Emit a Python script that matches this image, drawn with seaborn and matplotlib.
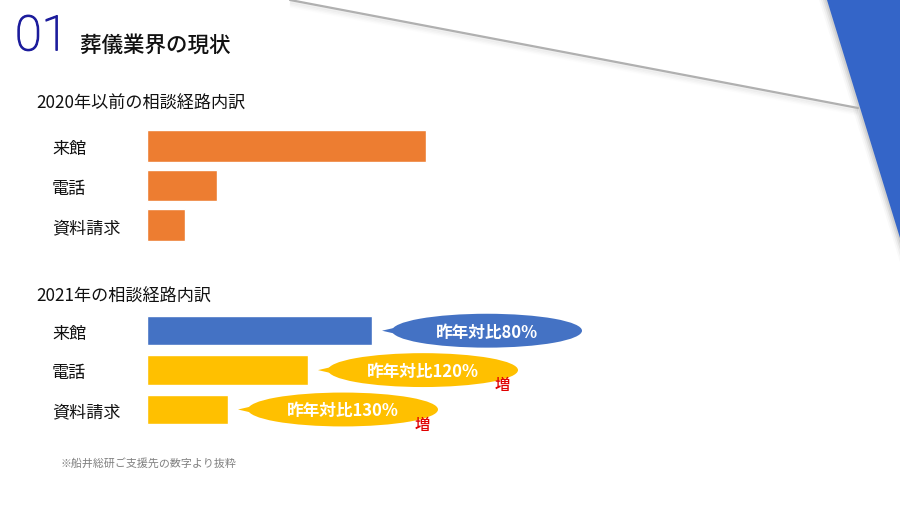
import matplotlib
matplotlib.use("Agg")
import matplotlib.pyplot as plt
import matplotlib.patheffects as pe
from matplotlib.patches import Ellipse, Polygon
from matplotlib.transforms import ScaledTranslation
import seaborn as sns
import pandas as pd
import numpy as np

sns.set_theme(style="white")
plt.rcParams['font.family'] = ['Noto Sans CJK JP', 'DejaVu Sans']

# ---- data ----
channels = ["来館", "電話", "資料請求"]
values_2020 = [279, 70, 38]
values_2021 = [225, 161, 81]
callout_labels = ["昨年対比80%", "昨年対比120%", "昨年対比130%"]
callout_up = [False, True, True]
title_2020 = "2020年以前の相談経路内訳"
title_2021 = "2021年の相談経路内訳"
header_num = "01"
header_text = "葬儀業界の現状"
footnote = "※船井総研ご支援先の数字より抜粋"

ORANGE = "#ED7D31"
BLUE = "#4472C4"
GOLD = "#FFC000"
colors_2021 = [BLUE, GOLD, GOLD]

W, H = 900, 505
fig = plt.figure(figsize=(W / 100, H / 100), dpi=100)
fig.patch.set_facecolor("white")

# background decoration axes in pixel coords
bg = fig.add_axes([0, 0, 1, 1])
bg.set_xlim(0, W)
bg.set_ylim(H, 0)
bg.axis("off")
for k, a in enumerate([0.07, 0.05, 0.035, 0.02]):
    bg.plot([290, 858], [0 + 1.5 * (k + 1), 108 + 1.5 * (k + 1)], color="#808080", alpha=a, lw=2.5,
            solid_capstyle="butt")
bg.plot([290, 858], [0, 108], color="#b0b0b0", lw=1.6)
for k, a in enumerate([0.08, 0.06, 0.04, 0.025]):
    d = 2.0 * (k + 1)
    bg.add_patch(Polygon([[827 - d, 0], [900, 0], [900, 238 + d * 3]], closed=True, facecolor="#000000",
                         alpha=a, lw=0))
bg.add_patch(Polygon([[827, 0], [900, 0], [900, 238]], closed=True, facecolor="#3465C8", lw=0))

# header
NAVY = "#1c1c9c"
fig.text(15 / W, 1 - 37 / H, header_num, fontsize=35, color=NAVY, family=["Roboto", "DejaVu Sans"],
         fontweight="light", va="center", ha="left",
         path_effects=[pe.Stroke(linewidth=0.9, foreground=NAVY), pe.Normal()])
fig.text(80 / W, 1 - 46 / H, header_text, fontsize=15.5, color="#111111", fontweight="medium",
         va="center", ha="left")
fig.text(36 / W, 1 - 104 / H, title_2020, fontsize=12.3, color="#111111", va="center", ha="left")
fig.text(36 / W, 1 - 297 / H, title_2021, fontsize=12.3, color="#111111", va="center", ha="left")
fig.text(60 / W, 1 - 463 / H, footnote, fontsize=7.9, color="#808080", va="center", ha="left")

AX_LEFT = 147
AX_WIDTH = 600
STEP = 39.4


def make_ax(top_px):
    h = 3 * STEP
    ax = fig.add_axes([AX_LEFT / W, 1 - (top_px + h) / H, AX_WIDTH / W, h / H])
    ax.patch.set_alpha(0)
    return ax


df20 = pd.DataFrame({"channel": channels, "value": values_2020})
ax1 = make_ax(126.5)
sns.barplot(data=df20, x="value", y="channel", orient="h", color=ORANGE, saturation=1,
            width=0.8, ax=ax1)

df21 = pd.DataFrame({"channel": channels, "value": values_2021})
ax2 = make_ax(311)
sns.barplot(data=df21, x="value", y="channel", orient="h", hue="channel", palette=colors_2021,
            saturation=1, width=0.75, legend=False, ax=ax2)

shift = ScaledTranslation(0, -3 / 100, fig.dpi_scale_trans)
for ax in (ax1, ax2):
    ax.set_xlim(0, AX_WIDTH)
    ax.set_ylim(2.5, -0.5)
    for s in ax.spines.values():
        s.set_visible(False)
    ax.set_xticks([])
    ax.set_xlabel("")
    ax.set_ylabel("")
    ax.tick_params(axis="y", length=0, pad=95 * 0.72, labelsize=12.3, labelcolor="#111111")
    for lab in ax.get_yticklabels():
        lab.set_horizontalalignment("left")
        lab.set_verticalalignment("center")
        lab.set_transform(lab.get_transform() + shift)

# callouts on 2021 bars
for i, (v, lab, up, c) in enumerate(zip(values_2021, callout_labels, callout_up, colors_2021)):
    tip = v + 10
    left = tip + 10
    ew = 190
    cx = left + ew / 2
    eh = 0.86
    ax2.add_patch(Polygon([[tip, i], [left + 14, i - 0.14], [left + 14, i + 0.14]], closed=True,
                          facecolor=c, edgecolor="none", clip_on=False))
    ax2.add_patch(Ellipse((cx, i), ew, eh, facecolor=c, edgecolor="none", clip_on=False))
    ax2.text(cx, i + 0.05, lab, color="white", fontsize=12, fontweight="bold",
             ha="center", va="center", clip_on=False)
    if up:
        ax2.text(left + ew - 16, i + 0.4, "増", color="#e00000", fontsize=11, fontweight="medium",
                 ha="center", va="center", clip_on=False)

fig.savefig("out.png", dpi=100, facecolor="white")
